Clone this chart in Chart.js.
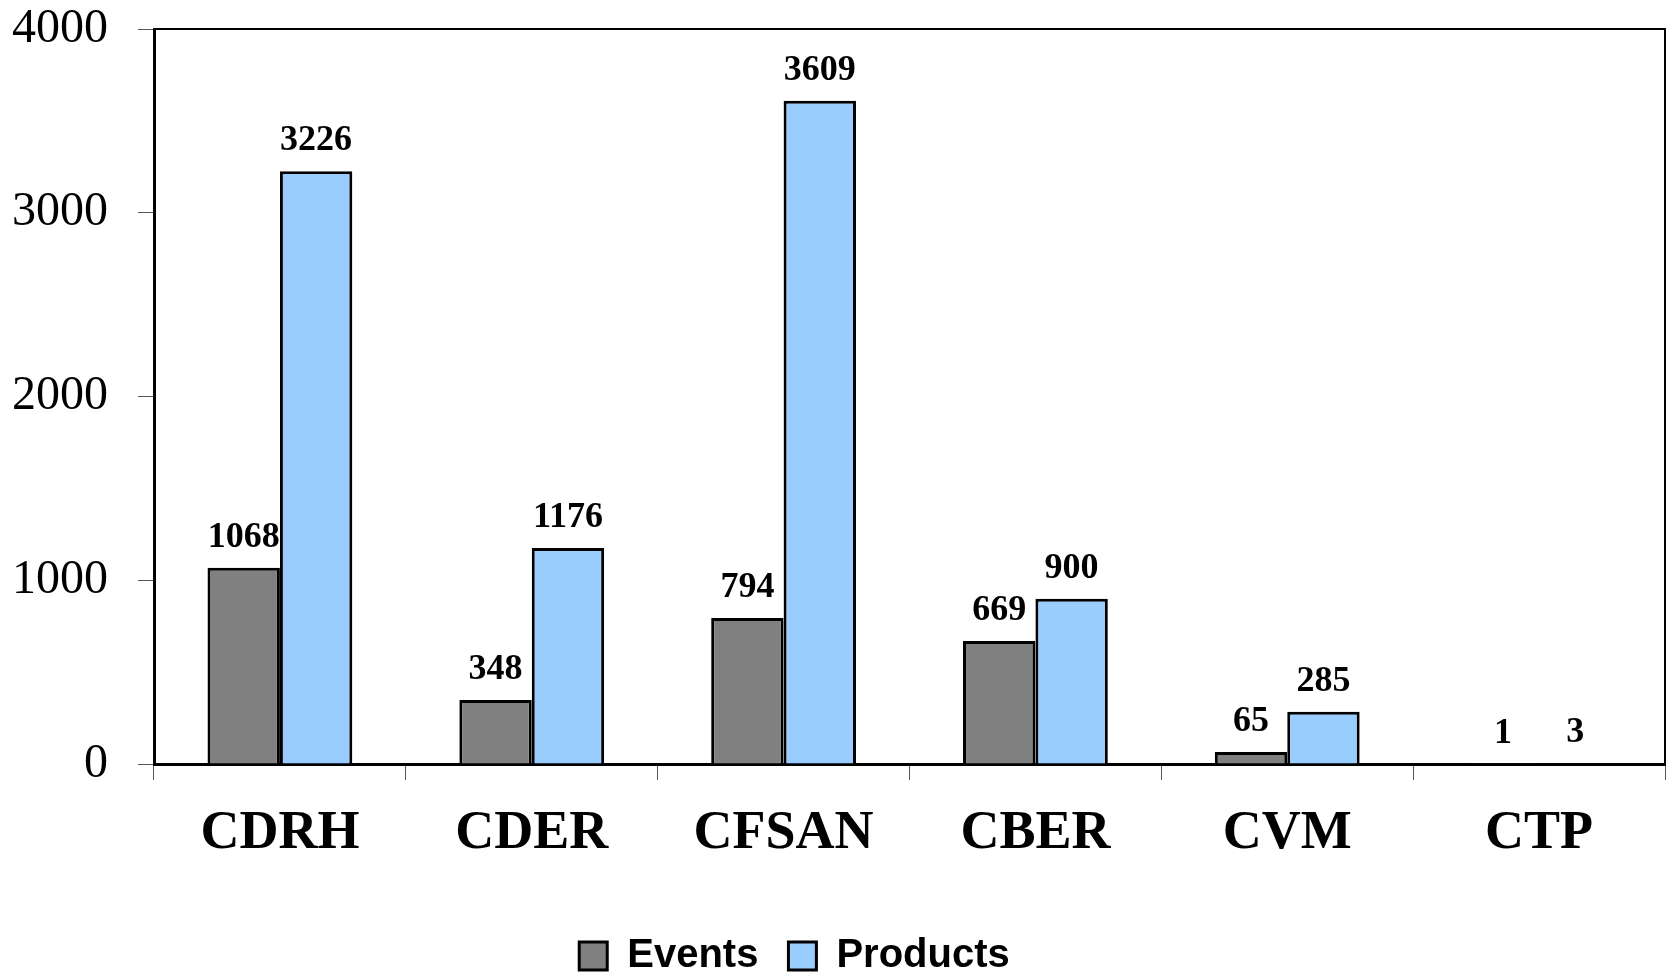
<!DOCTYPE html>
<html>
<head>
<meta charset="utf-8">
<script src="https://cdn.jsdelivr.net/npm/chart.js@4"></script>
<style>
  html, body { margin: 0; padding: 0; background: #fff; }
  #wrap { width: 1669px; height: 973px; }
</style>
</head>
<body>
<div id="wrap"><canvas id="chart" width="1669" height="973"></canvas></div>
<script>
// centres
const categories = ['CDRH', 'CDER', 'CFSAN', 'CBER', 'CVM', 'CTP'];
const events = [1068, 348, 794, 669, 65, 1];
const products = [3226, 1176, 3609, 900, 285, 3];
const yTicks = [0, 1000, 2000, 3000, 4000];

const serif = "'Liberation Serif', 'Times New Roman', serif";

// value labels above each bar
const valueLabels = {
    id: 'valueLabels',
    afterDatasetsDraw(chart) {
        const ctx = chart.ctx;
        ctx.save();
        ctx.font = 'bold 36px ' + serif;
        ctx.fillStyle = '#000';
        ctx.textAlign = 'center';
        ctx.textBaseline = 'alphabetic';
        chart.data.datasets.forEach((ds, i) => {
            chart.getDatasetMeta(i).data.forEach((bar, j) => {
                ctx.fillText(String(ds.data[j]), bar.x, bar.y - 21);
            });
        });
        ctx.restore();
    }
};

// top and right edges of the plot box
const plotBox = {
    id: 'plotBox',
    afterDraw(chart) {
        const { ctx, chartArea: a } = chart;
        ctx.save();
        ctx.strokeStyle = '#000';
        ctx.lineWidth = 2;
        ctx.beginPath();
        ctx.moveTo(a.left, a.top);
        ctx.lineTo(a.right, a.top);
        ctx.lineTo(a.right, a.bottom);
        ctx.stroke();
        ctx.restore();
    }
};

// legend sits a bit left of centre and low in the original
const legendShift = {
    id: 'legendShift',
    afterLayout(chart) {
        chart.legend.left -= 38;
        chart.legend.right -= 38;
        chart.legend.top += 13;
        chart.legend.bottom += 13;
    }
};

new Chart(document.getElementById('chart'), {
    type: 'bar',
    data: {
        labels: categories,
        datasets: [
            {
                label: 'Events',
                data: events,
                backgroundColor: '#808080',
                borderColor: '#000',
                borderWidth: 3
            },
            {
                label: 'Products',
                data: products,
                backgroundColor: '#99CCFF',
                borderColor: '#000',
                borderWidth: 3
            }
        ]
    },
    options: {
        responsive: false,
        animation: false,
        layout: { padding: { top: 29, right: 4, left: 0, bottom: 0 } },
        datasets: {
            bar: { categoryPercentage: 0.575, barPercentage: 1 }
        },
        plugins: {
            tooltip: { enabled: false },
            legend: {
                position: 'bottom',
                labels: {
                    color: '#000',
                    font: { family: "'Liberation Sans', Arial, sans-serif", size: 40, weight: 'bold' },
                    boxWidth: 28,
                    boxHeight: 28,
                    padding: 30
                }
            }
        },
        scales: {
            x: {
                afterFit(scale) { scale.height = 129; },
                grid: {
                    offset: true,
                    drawOnChartArea: false,
                    drawTicks: true,
                    tickLength: 16,
                    color: '#555',
                    lineWidth: 1
                },
                border: { color: '#000', width: 3 },
                ticks: {
                    color: '#000',
                    padding: 22,
                    font: { family: serif, size: 54, weight: 'bold' }
                }
            },
            y: {
                min: 0,
                max: 4000,
                afterFit(scale) {
                    scale.width = 154;
                    scale.paddingTop = 0;
                    scale.paddingBottom = 0;
                },
                afterBuildTicks(scale) { scale.ticks = yTicks.map(v => ({ value: v })); },
                grid: {
                    drawOnChartArea: false,
                    drawTicks: true,
                    tickLength: 16,
                    color: '#555',
                    lineWidth: 1
                },
                border: { color: '#000', width: 3 },
                ticks: {
                    color: '#000',
                    padding: 30,
                    font: { family: serif, size: 48 },
                    callback: v => String(v)
                }
            }
        }
    },
    plugins: [valueLabels, plotBox, legendShift]
});
</script>
</body>
</html>
